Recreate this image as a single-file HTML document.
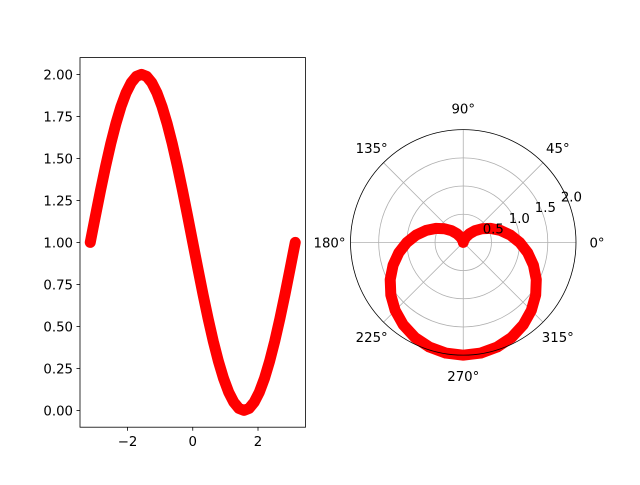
<!DOCTYPE html>
<html><head><meta charset="utf-8"><style>
body{margin:0;background:#fff}
svg text{font-family:"DejaVu Sans","Liberation Sans",sans-serif;font-size:13.3px;fill:#000}
</style></head><body>
<svg id="fig" width="640" height="480" viewBox="0 0 640 480" xmlns="http://www.w3.org/2000/svg">
<rect width="640" height="480" fill="#fff"/>
<g id="left"></g>
<g id="right"></g>
</svg>
<script>
const xDeg = [-180,-171,-162,-153,-144,-135,-126,-117,-108,-99,-90,-81,-72,-63,-54,-45,-36,-27,-18,-9,0,9,18,27,36,45,54,63,72,81,90,99,108,117,126,135,144,153,162,171,180];
const yVals = [1,1.156,1.309,1.454,1.588,1.707,1.809,1.891,1.951,1.988,2,1.988,1.951,1.891,1.809,1.707,1.588,1.454,1.309,1.156,1,0.844,0.691,0.546,0.412,0.293,0.191,0.109,0.049,0.012,0,0.012,0.049,0.109,0.191,0.293,0.412,0.546,0.691,0.844,1];
const xTicks = [-2,0,2];
const yTicks = [0,0.25,0.5,0.75,1,1.25,1.5,1.75,2];
const rTicks = [0.5,1.0,1.5,2.0];
const rTickLabels = ["0.5","1.0","1.5","2.0"];
const angTicks = [0,45,90,135,180,225,270,315];

const NS="http://www.w3.org/2000/svg";
function mk(p,tag,at,txt){const e=document.createElementNS(NS,tag);for(const k in at)e.setAttribute(k,at[k]);if(txt!==undefined)e.textContent=txt;p.appendChild(e);return e;}

const L=document.getElementById('left');
const ax={x0:80,x1:305.5,y0:57.6,y1:427.2,xmin:-3.4558,xmax:3.4558,ymin:-0.1,ymax:2.1};
const sx=v=>ax.x0+(v-ax.xmin)/(ax.xmax-ax.xmin)*(ax.x1-ax.x0);
const sy=v=>ax.y1-(v-ax.ymin)/(ax.ymax-ax.ymin)*(ax.y1-ax.y0);
let pts=xDeg.map((d,i)=>sx(d*Math.PI/180).toFixed(2)+','+sy(yVals[i]).toFixed(2)).join(' ');
let ln=mk(L,'polyline',{points:pts,fill:'none',stroke:'#ff0000','stroke-width':11,'stroke-linecap':'round','stroke-linejoin':'round'});


let fr=mk(L,'rect',{x:ax.x0,y:ax.y0,width:ax.x1-ax.x0,height:ax.y1-ax.y0,fill:'none',stroke:'#000','stroke-width':0.8});


xTicks.forEach(t=>{const x=sx(t);mk(L,'line',{x1:x,x2:x,y1:ax.y1,y2:ax.y1+3.5,stroke:'#000','stroke-width':0.8});
 const tx=mk(L,'text',{x:x,y:ax.y1+19,'text-anchor':'middle'},t<0?'\u2212'+(-t):String(t));
 
 });
yTicks.forEach(t=>{const y=sy(t);mk(L,'line',{x1:ax.x0-3.5,x2:ax.x0,y1:y,y2:y,stroke:'#000','stroke-width':0.8});
 const tx=mk(L,'text',{x:ax.x0-7,y:y+5,'text-anchor':'end'},t.toFixed(2));
 
 });

const R=document.getElementById('right');
const cx=463.25,cy=242.4,rad=112.75,rmax=2;
const pr=r=>r/rmax*rad;
angTicks.forEach(a=>{const t=a*Math.PI/180;mk(R,'line',{x1:cx,y1:cy,x2:cx+rad*Math.cos(t),y2:cy-rad*Math.sin(t),stroke:'#b0b0b0','stroke-width':0.8});});
rTicks.forEach(r=>{if(r<rmax)mk(R,'circle',{cx:cx,cy:cy,r:pr(r),fill:'none',stroke:'#b0b0b0','stroke-width':0.8});});
let pp=xDeg.map((d,i)=>{const t=d*Math.PI/180,r=pr(yVals[i]);return (cx+r*Math.cos(t)).toFixed(2)+','+(cy-r*Math.sin(t)).toFixed(2);}).join(' ');
let pl=mk(R,'polyline',{points:pp,fill:'none',stroke:'#ff0000','stroke-width':11,'stroke-linecap':'round','stroke-linejoin':'round'});


let oc=mk(R,'circle',{cx:cx,cy:cy,r:rad,fill:'none',stroke:'#000','stroke-width':0.8});


angTicks.forEach(a=>{const t=a*Math.PI/180,d=rad+21;
 const tx=mk(R,'text',{x:cx+d*Math.cos(t)+(a===135||a===225?3:0),y:cy-d*Math.sin(t)+5,'text-anchor':'middle'},a+'\u00b0');
 
 });
rTicks.forEach((r,i)=>{const t=22.5*Math.PI/180,d=pr(r);
 const tx=mk(R,'text',{x:cx+d*Math.cos(t)+4,y:cy-d*Math.sin(t)+2,'text-anchor':'middle'},rTickLabels[i]);
 
 });
</script>
</body></html>
